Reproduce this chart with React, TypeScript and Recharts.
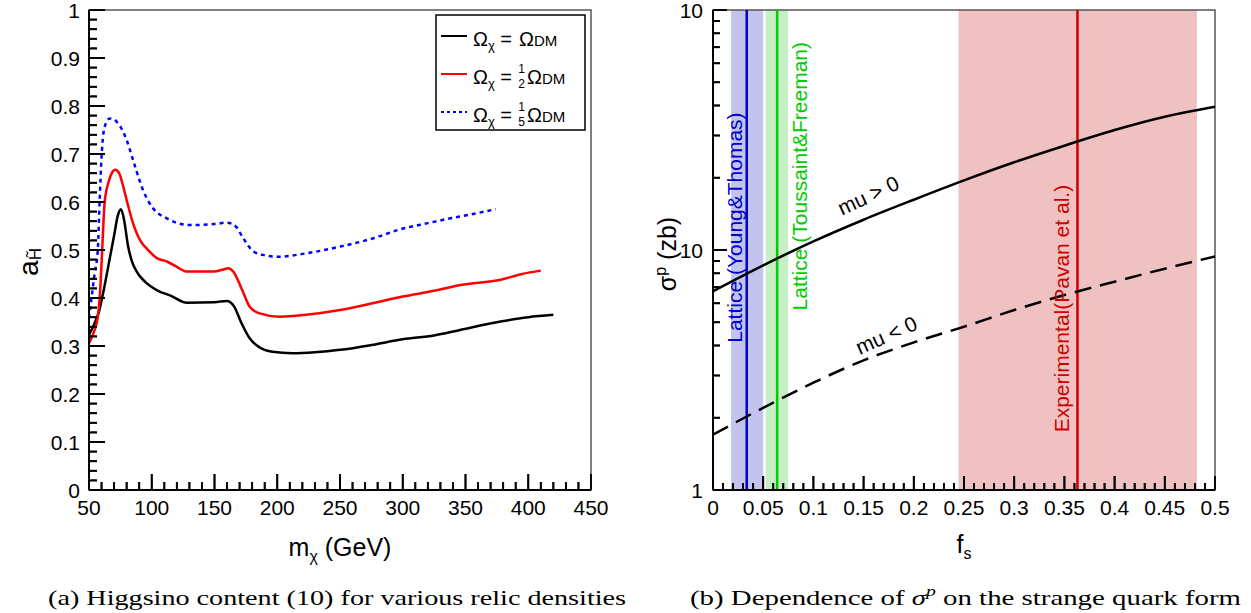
import React from 'react';
import {
  ComposedChart, Line, Scatter, XAxis, YAxis,
  ReferenceArea, ReferenceLine, ReferenceDot,
} from 'recharts';

const SANS = '"Liberation Sans", Arial, Helvetica, sans-serif';
const SERIF = '"Liberation Serif", "Times New Roman", serif';

// (a) higgsino content a_H vs neutralino mass, one list per relic density
const massFull = [50, 54, 58, 62, 66, 70, 73, 75.5, 78, 81, 84, 88, 95, 105, 115, 128, 150, 160, 165, 172, 178, 186, 196, 212, 230, 250, 275, 300, 325, 345, 378, 400, 420];
const aFull = [0.323, 0.345, 0.372, 0.42, 0.475, 0.53, 0.572, 0.585, 0.562, 0.51, 0.478, 0.455, 0.433, 0.415, 0.405, 0.39, 0.391, 0.394, 0.385, 0.345, 0.316, 0.297, 0.288, 0.285, 0.287, 0.292, 0.302, 0.314, 0.322, 0.333, 0.351, 0.36, 0.365];

const massHalf = [50, 54, 57, 59, 60.5, 62.5, 66, 68.5, 71, 74, 77, 80, 84, 88, 92, 96, 104, 112, 120, 128, 149, 158, 161, 165, 172, 178, 186, 202, 223, 250, 276, 300, 325, 346, 378, 395, 410];
const aHalf = [0.306, 0.33, 0.36, 0.42, 0.5, 0.6, 0.645, 0.662, 0.667, 0.66, 0.635, 0.604, 0.565, 0.535, 0.515, 0.503, 0.483, 0.476, 0.465, 0.455, 0.455, 0.46, 0.462, 0.455, 0.417, 0.382, 0.368, 0.361, 0.365, 0.375, 0.389, 0.403, 0.415, 0.427, 0.438, 0.45, 0.457];

const massFifth = [50, 52, 54.5, 57, 58.5, 60, 62.5, 66.5, 70, 73, 76.5, 80, 86, 93, 101, 112, 130, 150, 160, 167, 173, 181, 190, 200, 223, 250, 276, 298, 320, 338, 356, 374];
const aFifth = [0.358, 0.4, 0.451, 0.5, 0.604, 0.694, 0.757, 0.774, 0.772, 0.764, 0.75, 0.729, 0.68, 0.625, 0.587, 0.566, 0.552, 0.554, 0.557, 0.549, 0.524, 0.497, 0.489, 0.486, 0.493, 0.507, 0.524, 0.543, 0.556, 0.566, 0.575, 0.585];

const massMajor = [50, 100, 150, 200, 250, 300, 350, 400, 450];
const massLabels = ['50', '100', '150', '200', '250', '300', '350', '400', '450'];
const aMajor = [0, 0.1, 0.2, 0.3, 0.4, 0.5, 0.6, 0.7, 0.8, 0.9, 1];
const aLabels = ['0', '0.1', '0.2', '0.3', '0.4', '0.5', '0.6', '0.7', '0.8', '0.9', '1'];

// (b) sigma^p vs f_s
const fsValues = [0, 0.05, 0.1, 0.15, 0.2, 0.25, 0.3, 0.35, 0.4, 0.45, 0.5];
const sigmaMuPos = [6.73, 8.63, 10.86, 13.37, 16.2, 19.5, 23.2, 27.2, 31.6, 35.9, 39.5];
const sigmaMuNeg = [1.7, 2.2, 2.8, 3.47, 4.12, 4.79, 5.62, 6.49, 7.38, 8.36, 9.4];

const fsMajor = [0, 0.05, 0.1, 0.15, 0.2, 0.25, 0.3, 0.35, 0.4, 0.45, 0.5];
const fsLabels = ['0', '0.05', '0.1', '0.15', '0.2', '0.25', '0.3', '0.35', '0.4', '0.45', '0.5'];
const sigmaMajor = [1, 10, 100];
const sigmaLabels = ['1', '10', '10'];
const sigmaTicks = [1, 2, 3, 4, 5, 6, 7, 8, 9, 10, 20, 30, 40, 50, 60, 70, 80, 90, 100];

const bandNames = ['Lattice (Young&Thomas)', 'Lattice (Toussaint&Freeman)', 'Experimental(Pavan et al.)'];
const bandLow = [0.018, 0.0525, 0.2445];
const bandHigh = [0.05, 0.0748, 0.482];
const bandCentral = [0.0336, 0.0639, 0.363];

const bandFill = ['#c2c4ee', '#c6efc6', '#efc1c1'];
const bandColor = ['#0000cc', '#00cc00', '#cc0000'];
// where the band names sit (data coords)
const bandTextAt = [[0.0211, 12.4], [0.0859, 20.3], [0.347, 5.7]];

const massTicks = Array.from({ length: 41 }, (_, i) => 50 + 10 * i);
const aTicks = Array.from({ length: 51 }, (_, i) => i / 50);
const fsTicks = Array.from({ length: 51 }, (_, i) => i / 100);

const findMajor = (list: number[], v: number) => list.findIndex((t) => Math.abs(t - v) < 1e-9);

const fullData = massFull.map((m, i) => ({ m, a: aFull[i] }));
const halfData = massHalf.map((m, i) => ({ m, a: aHalf[i] }));
const fifthData = massFifth.map((m, i) => ({ m, a: aFifth[i] }));
const fsData = fsValues.map((fs, i) => ({ fs, pos: sigmaMuPos[i], neg: sigmaMuNeg[i] }));

// anchor points of the inward tick marks, placed through the chart scales
const massTickPts = massTicks.map((m) => ({ m, a: 0, major: findMajor(massMajor, m) >= 0 }));
const aTickPts = aTicks.map((a) => ({ m: 50, a, major: findMajor(aMajor, a) >= 0 }));
const fsTickPts = fsTicks.map((fs) => ({ fs, tick: 1, major: findMajor(fsMajor, fs) >= 0 }));
const sigmaTickPts = sigmaTicks.map((s) => ({ fs: 0, tick: s, major: findMajor(sigmaMajor, s) >= 0 }));

const TW = 1.8;

const upTick = (big: number, small: number) => (p: any) => {
  const len = p.payload.major ? big : small;
  return <rect x={p.cx - TW / 2} y={p.cy - len} width={TW} height={len} fill="#000" />;
};
const rightTick = (big: number, small: number) => (p: any) => {
  const len = p.payload.major ? big : small;
  return <rect x={p.cx} y={p.cy - TW / 2} width={len} height={TW} fill="#000" />;
};

// axis tick: inward mark plus label for the majors
const bottomTick = (majors: number[], labels: string[], big: number, small: number) => (p: any) => {
  const idx = findMajor(majors, p.payload.value);
  const len = idx >= 0 ? big : small;
  return (
    <g>
      <rect x={p.x - TW / 2} y={p.y - len} width={TW} height={len} fill="#000" />
      {idx >= 0 && (
        <text x={p.x} y={p.y + 25} textAnchor="middle" fontSize={21} fontFamily={SANS} fill="#000">
          {labels[idx]}
        </text>
      )}
    </g>
  );
};

const leftTick = (majors: number[], labels: string[], big: number, small: number, gap: number) => (p: any) => {
  const idx = findMajor(majors, p.payload.value);
  const len = idx >= 0 ? big : small;
  return (
    <g>
      <rect x={p.x} y={p.y - TW / 2} width={len} height={TW} fill="#000" />
      {idx >= 0 && (
        <text x={p.x - gap} y={p.y} dy="0.36em" textAnchor="end" fontSize={21} fontFamily={SANS} fill="#000">
          {labels[idx]}
        </text>
      )}
    </g>
  );
};

const rotText = (vb: any, text: string, angle: number, color: string, size: number) => {
  const cx = vb.x + (vb.width || 0) / 2;
  const cy = vb.y + (vb.height || 0) / 2;
  return (
    <text x={cx} y={cy} transform={`rotate(${angle} ${cx} ${cy})`} textAnchor="middle"
      dominantBaseline="central" fontSize={size} fontFamily={SANS} fill={color}>
      {text}
    </text>
  );
};

const HiggsinoChart = () => (
  <ComposedChart width={620} height={560} margin={{ top: 10, right: 29, left: 29, bottom: 40 }}>
    <XAxis type="number" dataKey="m" domain={[50, 450]} ticks={massTicks} interval={0}
      allowDataOverflow height={30} tickSize={0} tickMargin={0}
      axisLine={{ stroke: '#000', strokeWidth: 2 }} tickLine={false}
      tick={bottomTick(massMajor, massLabels, 16, 8)} />
    <YAxis type="number" dataKey="a" domain={[0, 1]} ticks={aTicks} interval={0} allowDataOverflow
      width={60} tickSize={0} tickMargin={0}
      axisLine={{ stroke: '#000', strokeWidth: 2 }} tickLine={false}
      tick={leftTick(aMajor, aLabels, 16, 8, 9)} />
    <ReferenceArea x1={50} x2={450} y1={0} y2={1} fill="none" stroke="#555" strokeWidth={1.5} ifOverflow="visible" />
    <Scatter data={massTickPts} dataKey="a" shape={upTick(16, 8)} isAnimationActive={false} />
    <Scatter data={aTickPts} dataKey="a" shape={rightTick(16, 8)} isAnimationActive={false} />
    <Line data={fullData} dataKey="a" type="monotone" stroke="#000" strokeWidth={2.5} dot={false} isAnimationActive={false} />
    <Line data={halfData} dataKey="a" type="monotone" stroke="#ff0000" strokeWidth={2.5} dot={false} isAnimationActive={false} />
    <Line data={fifthData} dataKey="a" type="monotone" stroke="#0000ff" strokeWidth={2.5} strokeDasharray="4 4" dot={false} isAnimationActive={false} />
  </ComposedChart>
);

const SigmaChart = () => (
  <ComposedChart width={631} height={560} data={fsData} margin={{ top: 10, right: 36, left: 33, bottom: 40 }}>
    <XAxis type="number" dataKey="fs" domain={[0, 0.5]} ticks={fsTicks} interval={0}
      allowDataOverflow height={30} tickSize={0} tickMargin={0}
      axisLine={{ stroke: '#000', strokeWidth: 2 }} tickLine={false}
      tick={bottomTick(fsMajor, fsLabels, 14, 7)} />
    <YAxis type="number" scale="log" domain={[1, 100]} ticks={sigmaTicks} interval={0} allowDataOverflow
      width={60} tickSize={0} tickMargin={0}
      axisLine={{ stroke: '#000', strokeWidth: 2 }} tickLine={false}
      tick={leftTick(sigmaMajor, sigmaLabels, 14, 7, 10)} />
    {bandNames.map((name, i) => (
      <ReferenceArea key={'a' + name} x1={bandLow[i]} x2={bandHigh[i]} y1={1} y2={100}
        fill={bandFill[i]} fillOpacity={1} stroke="none" ifOverflow="visible" />
    ))}
    {bandNames.map((name, i) => (
      <ReferenceLine key={'l' + name} x={bandCentral[i]} stroke={bandColor[i]} strokeWidth={2.5} />
    ))}
    {bandNames.map((name, i) => (
      <ReferenceDot key={'t' + name} x={bandTextAt[i][0]} y={bandTextAt[i][1]} r={0}
        fill="none" stroke="none" ifOverflow="visible"
        label={(p: any) => rotText(p.viewBox, name, -90, bandColor[i], 21)} />
    ))}
    <ReferenceArea x1={0} x2={0.5} y1={1} y2={100} fill="none" stroke="#555" strokeWidth={1.5} ifOverflow="visible" />
    <Scatter data={fsTickPts} dataKey="tick" shape={upTick(14, 7)} isAnimationActive={false} />
    <Scatter data={sigmaTickPts} dataKey="tick" shape={rightTick(14, 7)} isAnimationActive={false} />
    <Line dataKey="pos" type="monotone" stroke="#000" strokeWidth={2.5} dot={false} isAnimationActive={false} />
    <Line dataKey="neg" type="monotone" stroke="#000" strokeWidth={2.5} strokeDasharray="17 9" dot={false} isAnimationActive={false} />
    <ReferenceDot x={0.1547} y={16.9} r={0} fill="none" stroke="none"
      label={(p: any) => rotText(p.viewBox, 'mu > 0', -25, '#000', 21)} />
    <ReferenceDot x={0.1726} y={4.42} r={0} fill="none" stroke="none"
      label={(p: any) => rotText(p.viewBox, 'mu < 0', -24, '#000', 21)} />
  </ComposedChart>
);

const LegendRow = ({ y, color, dash, frac }: { y: number; color: string; dash?: string; frac?: string }) => (
  <g fontFamily={SANS} fill="#000">
    <line x1={441} x2={467} y1={y - 10} y2={y - 10} stroke={color} strokeWidth={2} strokeDasharray={dash} />
    <text x={473} y={y} fontSize={20}>
      Ω<tspan fontSize={13} dy={4}>χ</tspan><tspan dy={-4} fontSize={20}> =</tspan>
    </text>
    {frac ? (
      <>
        <text x={521.5} y={y - 11} fontSize={12} textAnchor="middle">1</text>
        <text x={521.5} y={y + 4} fontSize={12} textAnchor="middle">{frac}</text>
        <text x={527} y={y} fontSize={20}>Ω<tspan fontSize={15}>DM</tspan></text>
      </>
    ) : (
      <text x={519} y={y} fontSize={20}>Ω<tspan fontSize={15}>DM</tspan></text>
    )}
  </g>
);

const Overlay = () => (
  <svg width={1251} height={613} style={{ position: 'absolute', left: 0, top: 0, pointerEvents: 'none' }}>
    <rect x={436} y={15} width={149} height={115} fill="#fff" stroke="#000" strokeWidth={1.5} />
    <LegendRow y={46} color="#000" />
    <LegendRow y={84} color="#ff0000" frac="2" />
    <LegendRow y={122} color="#0000ff" dash="3 3" frac="5" />

    <text x={340} y={556} textAnchor="middle" fontSize={25} fontFamily={SANS}>
      m<tspan fontSize={16} dy={6}>χ</tspan><tspan dy={-6}> (GeV)</tspan>
    </text>
    <text transform="translate(38,262) rotate(-90)" textAnchor="middle" fontSize={28} fontFamily={SANS}>
      a<tspan fontSize={17} dy={3}>H̃</tspan>
    </text>

    <text x={964} y={553} textAnchor="middle" fontSize={25} fontFamily={SANS}>
      f<tspan fontSize={16} dy={6}>s</tspan>
    </text>
    <text transform="translate(676,254) rotate(-90)" textAnchor="middle" fontSize={25} fontFamily={SANS}>
      σ<tspan fontSize={16} dy={-10}>p</tspan><tspan dy={10}> (zb)</tspan>
    </text>

    <text x={48} y={605} fontSize={22} fontFamily={SERIF} textLength={578} lengthAdjust="spacingAndGlyphs">
      (a) Higgsino content (10) for various relic densities
    </text>
    <text x={690} y={605} fontSize={22} fontFamily={SERIF} textLength={551} lengthAdjust="spacingAndGlyphs">
      (b) Dependence of <tspan fontStyle="italic">σ</tspan><tspan fontStyle="italic" fontSize={15} dy={-9}>p</tspan><tspan dy={9}> on the strange quark form</tspan>
    </text>
  </svg>
);

export default function App() {
  return (
    <div style={{ position: 'absolute', left: 0, top: 0, width: 1251, height: 613, background: '#fff', overflow: 'hidden' }}>
      <div style={{ position: 'absolute', left: 0, top: 0 }}>
        <HiggsinoChart />
      </div>
      <div style={{ position: 'absolute', left: 620, top: 0 }}>
        <SigmaChart />
      </div>
      <Overlay />
    </div>
  );
}
